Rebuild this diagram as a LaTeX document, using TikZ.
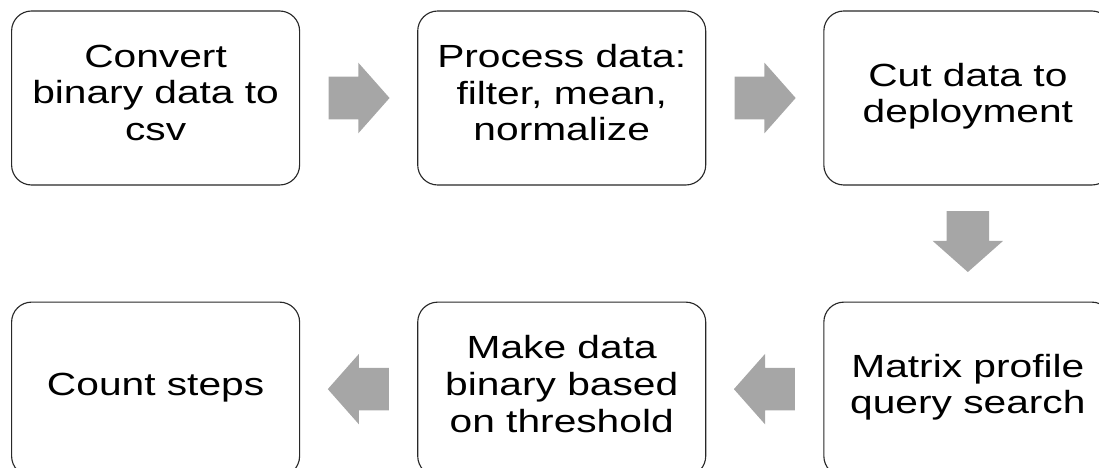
\documentclass[tikz,border=0pt]{standalone}
\usepackage{fontspec}
\setmainfont{Liberation Sans}[FakeStretch=1.27]
\usepackage{tikz}
\usetikzlibrary{shapes.arrows, positioning, calc}
\definecolor{mygray}{RGB}{166,166,166}
\definecolor{mydark}{RGB}{40,40,40}
\tikzset{
  stepbox/.style={rectangle, draw=mydark, fill=white,
    minimum width=7.2cm, minimum height=4.35cm, align=center,
    rounded corners=0.5cm, line width=0.8pt, inner sep=0pt,
    font=\fontsize{22.8}{26}\selectfont,
    % a bit of depth under the last line lifts the text slightly
    execute at end node={\rule[-0.26cm]{0pt}{0pt}}},
  blockarrow/.style={single arrow, draw=none, fill=mygray,
    inner xsep=0pt, inner ysep=0.525cm, minimum height=1.525cm,
    single arrow head extend=0.35cm, single arrow tip angle=97,
    anchor=tail}
}

\begin{document}
\begin{tikzpicture}
  \useasboundingbox (0,0) rectangle (27.475,-11.7);
  % Top row, left to right
  \node[stepbox] (convert) at (3.89,-2.45) {Convert\\binary data to\\csv};
  \node[stepbox, right=2.925cm of convert] (process) {Process data:\\filter, mean,\\normalize};
  \node[stepbox, right=2.925cm of process] (cut) {Cut data to\\deployment};
  % Bottom row, right to left
  \node[stepbox, below=2.9cm of cut] (matrix) {Matrix profile\\query search};
  \node[stepbox, left=2.925cm of matrix] (binarize) {Make data\\binary based\\on threshold};
  \node[stepbox, left=2.925cm of binarize] (count) {Count steps};

  % Block arrows between the steps (placed by their tails)
  \node[blockarrow] (arrA) at ($(convert.east)!0.5!(process.west)+(-0.76,0)$) {};
  \node[blockarrow] (arrB) at ($(process.east)!0.5!(cut.west)+(-0.76,0)$) {};
  \node[blockarrow, rotate=-90] (arrC) at ($(cut.south)!0.5!(matrix.north)+(0,0.82)$) {};
  \node[blockarrow, shape border rotate=180] (arrD) at ($(matrix.west)!0.5!(binarize.east)+(0.76,0)$) {};
  \node[blockarrow, shape border rotate=180] (arrE) at ($(binarize.west)!0.5!(count.east)+(0.76,0)$) {};
\end{tikzpicture}
\end{document}
